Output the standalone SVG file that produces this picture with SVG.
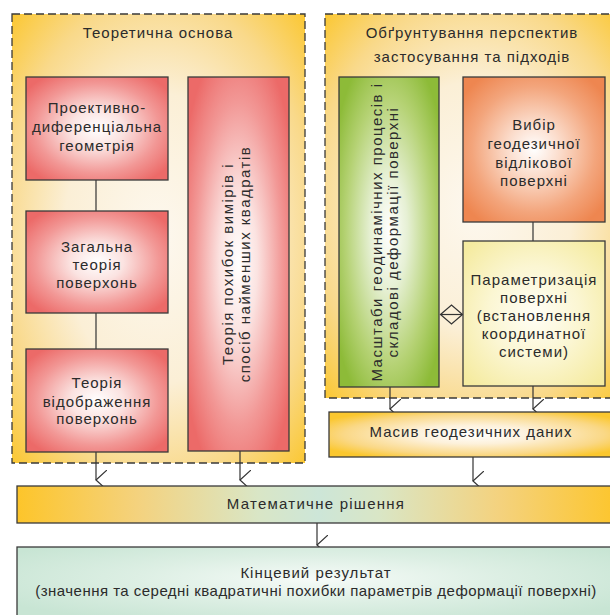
<svg xmlns="http://www.w3.org/2000/svg" width="610" height="615" viewBox="0 0 610 615">
<defs>
<radialGradient id="gFrame" cx="0.5" cy="0.5" r="0.72">
<stop offset="0" stop-color="#FDF8EF"/>
<stop offset="0.45" stop-color="#FBEFD6"/>
<stop offset="0.75" stop-color="#F9D98A"/>
<stop offset="1" stop-color="#FBC62C"/>
</radialGradient>
<radialGradient id="gRed" cx="0.5" cy="0.5" r="0.62">
<stop offset="0" stop-color="#FFFFFF"/>
<stop offset="0.3" stop-color="#FBE3E1"/>
<stop offset="0.7" stop-color="#F29896"/>
<stop offset="1" stop-color="#EC6A68"/>
</radialGradient>
<radialGradient id="gGreen" cx="0.5" cy="0.5" r="0.62">
<stop offset="0" stop-color="#FFFFFF"/>
<stop offset="0.3" stop-color="#E6F0D4"/>
<stop offset="0.7" stop-color="#B5D274"/>
<stop offset="1" stop-color="#8DBB38"/>
</radialGradient>
<radialGradient id="gOrange" cx="0.5" cy="0.5" r="0.62">
<stop offset="0" stop-color="#FFFFFF"/>
<stop offset="0.3" stop-color="#FBDCCB"/>
<stop offset="0.7" stop-color="#F3A57C"/>
<stop offset="1" stop-color="#EE8650"/>
</radialGradient>
<radialGradient id="gYellow" cx="0.5" cy="0.5" r="0.65">
<stop offset="0" stop-color="#FFFEF6"/>
<stop offset="0.5" stop-color="#FBF6D2"/>
<stop offset="1" stop-color="#F5EBA0"/>
</radialGradient>
<radialGradient id="gMasyv" cx="0.5" cy="0.5" r="0.6">
<stop offset="0" stop-color="#FFFFFF"/>
<stop offset="0.35" stop-color="#FDF1DA"/>
<stop offset="0.75" stop-color="#FAD886"/>
<stop offset="1" stop-color="#FBC72E"/>
</radialGradient>
<linearGradient id="gMat" x1="0" y1="0" x2="1" y2="0">
<stop offset="0" stop-color="#FDC52A"/>
<stop offset="0.2" stop-color="#F4D27E"/>
<stop offset="0.4" stop-color="#D9E6C6"/>
<stop offset="0.5" stop-color="#CDE6D8"/>
<stop offset="0.6" stop-color="#D9E6C6"/>
<stop offset="0.8" stop-color="#F4D27E"/>
<stop offset="1" stop-color="#FDC52A"/>
</linearGradient>
<radialGradient id="gFinal" cx="0.5" cy="0.4" r="0.6">
<stop offset="0" stop-color="#F6FBF8"/>
<stop offset="0.5" stop-color="#DDEFE4"/>
<stop offset="1" stop-color="#C8E5D4"/>
</radialGradient>
<marker id="arr" viewBox="0 0 20 12" refX="10" refY="11" markerWidth="20" markerHeight="12" markerUnits="userSpaceOnUse" orient="auto-start-reverse">
<path d="M0,0 L10,11 L20,0" fill="none" stroke="#333" stroke-width="1.2"/>
</marker>
</defs>
<style>
text{font-family:"Liberation Sans",Arial,sans-serif;font-size:15px;letter-spacing:1px;fill:#2b2b2b;text-anchor:middle}
.frame{stroke:#3a3a3a;stroke-width:1.3;stroke-dasharray:8 4}
.box{stroke:#3a3a3a;stroke-width:1.3}
.ln{stroke:#333;stroke-width:1.2;fill:none}
.wide{letter-spacing:1.5px}
.wider{letter-spacing:1.25px}
.nl{letter-spacing:0.47px}
</style>
<rect width="610" height="615" fill="#FFFFFF"/>

<g id="frame-theory">
<rect class="frame" x="12" y="14" width="293" height="449" fill="url(#gFrame)"/>
<text x="158" y="38">Теоретична основа</text>
</g>
<g id="frame-grounds">
<rect class="frame" x="325" y="14" width="300" height="384" fill="url(#gFrame)"/>
<text x="472" y="38">Обґрунтування перспектив</text>
<text x="472" y="62">застосування та підходів</text>
</g>

<g id="connectors">
<line class="ln" x1="96" y1="180" x2="96" y2="211"/>
<line class="ln" x1="96" y1="313" x2="96" y2="349"/>
<line class="ln" x1="533" y1="222" x2="533" y2="241"/>
<line class="ln" x1="96" y1="452" x2="96" y2="480" marker-end="url(#arr)"/>
<line class="ln" x1="240" y1="451" x2="240" y2="480" marker-end="url(#arr)"/>
<line class="ln" x1="390" y1="387" x2="390" y2="409" marker-end="url(#arr)"/>
<line class="ln" x1="533" y1="386" x2="533" y2="409" marker-end="url(#arr)"/>
<line class="ln" x1="473" y1="457" x2="473" y2="481" marker-end="url(#arr)"/>
<line class="ln" x1="317" y1="523" x2="317" y2="545" marker-end="url(#arr)"/>
<path class="ln" d="M440.5,314.5 L451.5,305 L462.5,314.5 L451.5,324 Z"/>
<line class="ln" x1="440.5" y1="314.5" x2="462.5" y2="314.5"/>
</g>

<g id="node-proj">
<rect class="box" x="26" y="77" width="142" height="103" fill="url(#gRed)"/>
<text x="97" y="113">Проективно-</text>
<text x="97" y="132">диференціальна</text>
<text x="97" y="151">геометрія</text>
</g>
<g id="node-general">
<rect class="box" x="26" y="211" width="142" height="102" fill="url(#gRed)"/>
<text x="97" y="252">Загальна</text>
<text x="97" y="270">теорія</text>
<text x="97" y="288">поверхонь</text>
</g>
<g id="node-mapping">
<rect class="box" x="26" y="349" width="142" height="103" fill="url(#gRed)"/>
<text x="97" y="388">Теорія</text>
<text x="97" y="407">відображення</text>
<text x="97" y="424">поверхонь</text>
</g>
<g id="node-errors">
<rect class="box" x="188" y="77" width="101" height="374" fill="url(#gRed)"/>
<text class="wide" transform="translate(233,264) rotate(-90)">Теорія похибок вимірів і</text>
<text class="wide" transform="translate(250,264) rotate(-90)">спосіб найменших квадратів</text>
</g>
<g id="node-scales">
<rect class="box" x="339" y="77" width="100" height="310" fill="url(#gGreen)"/>
<text class="wide" transform="translate(382,232) rotate(-90)">Масштаби геодинамічних процесів і</text>
<text class="wide" transform="translate(398,232) rotate(-90)">складові деформації поверхні</text>
</g>
<g id="node-choice">
<rect class="box" x="463" y="77" width="142" height="145" fill="url(#gOrange)"/>
<text x="534" y="130">Вибір</text>
<text x="534" y="149">геодезичної</text>
<text x="534" y="168">відлікової</text>
<text x="534" y="186">поверхні</text>
</g>
<g id="node-param">
<rect class="box" x="463" y="241" width="142" height="145" fill="url(#gYellow)"/>
<text x="534" y="285">Параметризація</text>
<text x="534" y="303">поверхні</text>
<text x="534" y="321">(встановлення</text>
<text x="534" y="339">координатної</text>
<text x="534" y="357">системи)</text>
</g>
<g id="node-data">
<rect class="box" x="329" y="412" width="290" height="45" fill="url(#gMasyv)"/>
<text x="471" y="437">Масив геодезичних даних</text>
</g>
<g id="node-math">
<rect class="box" x="17" y="486" width="603" height="37" fill="url(#gMat)"/>
<text class="wider" x="316" y="509">Математичне рішення</text>
</g>
<g id="node-result">
<rect class="box" x="17" y="547" width="603" height="80" fill="url(#gFinal)"/>
<text x="316" y="578">Кінцевий результат</text>
<text class="nl" x="316" y="596">(значення та середні квадратичні похибки параметрів деформації поверхні)</text>
</g>
</svg>
